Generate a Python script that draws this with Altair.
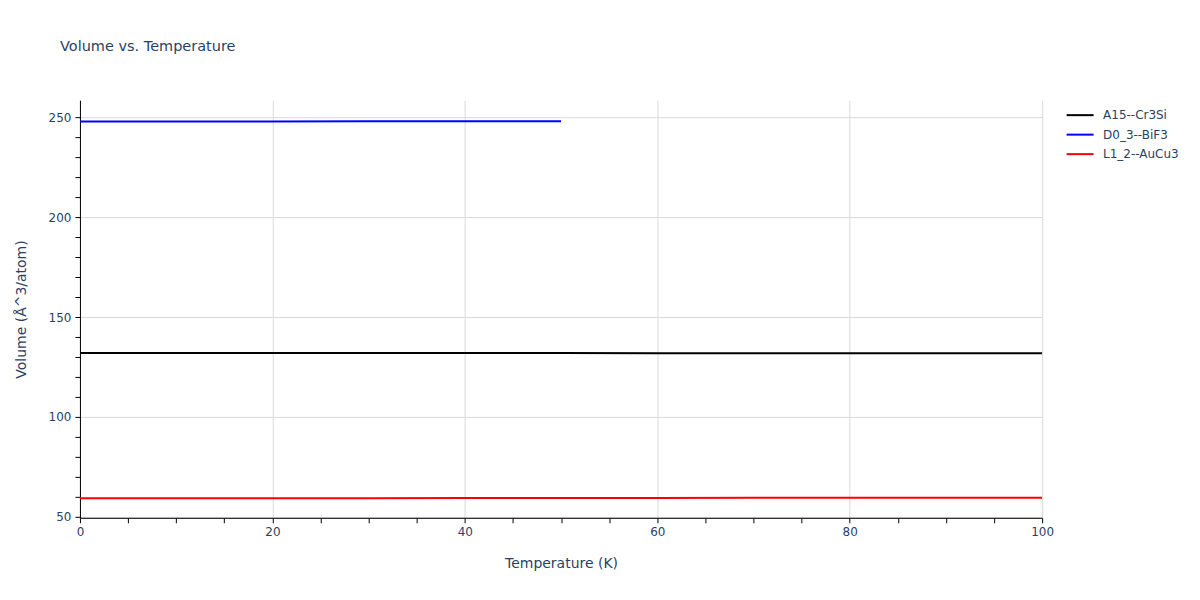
import altair as alt
import pandas as pd

temps_a15 = [0, 10, 20, 30, 40, 50, 60, 70, 80, 90, 100]
vol_a15 = [132.1, 132.1, 132.1, 132.05, 132.0, 132.0, 131.95, 131.95, 131.9, 131.9, 131.9]
temps_d03 = [0, 10, 20, 30, 40, 50]
vol_d03 = [248.0, 248.05, 248.05, 248.1, 248.15, 248.2]
temps_l12 = [0, 10, 20, 30, 40, 50, 60, 70, 80, 90, 100]
vol_l12 = [59.3, 59.3, 59.35, 59.35, 59.4, 59.4, 59.45, 59.5, 59.5, 59.55, 59.6]

series = ["A15--Cr3Si", "D0_3--BiF3", "L1_2--AuCu3"]
colors = ["#000000", "#0000ff", "#ff0000"]

rows = []
for name, ts, vs in zip(series, [temps_a15, temps_d03, temps_l12], [vol_a15, vol_d03, vol_l12]):
    for t, v in zip(ts, vs):
        rows.append({"T": t, "V": v, "series": name})
df = pd.DataFrame(rows)

FONT = "DejaVu Sans"
TXT = "#2a3f5f"

x_ticks = list(range(0, 101, 5))
y_ticks = list(range(50, 251, 10))

chart = alt.Chart(df).mark_line(strokeWidth=2, clip=True).encode(
    x=alt.X("T:Q", scale=alt.Scale(domain=[0, 100], nice=False, zero=False),
            axis=alt.Axis(title="Temperature (K)", values=x_ticks, labelFlush=False,
                          labelExpr="datum.value % 20 === 0 ? datum.label : ''",
                          gridOpacity={"expr": "datum.value % 20 === 0 ? 1 : 0"},
                          titlePadding=19)),
    y=alt.Y("V:Q", scale=alt.Scale(domain=[49.5, 258.7], nice=False, zero=False),
            axis=alt.Axis(title="Volume (Å^3/atom)", values=y_ticks, labelFlush=False,
                          labelExpr="datum.value % 50 === 0 ? datum.label : ''",
                          gridOpacity={"expr": "datum.value % 50 === 0 ? 1 : 0"},
                          titlePadding=20)),
    color=alt.Color("series:N", scale=alt.Scale(domain=series, range=colors),
                    legend=alt.Legend(title=None, orient="none", legendX=990, legendY=4,
                                      symbolType="M-1.35,0H1.35", symbolStrokeWidth=2,
                                      symbolSize=400, labelFontSize=12, labelOffset=12,
                                      labelFont=FONT, labelColor=TXT, rowPadding=2.5,
                                      symbolOffset=0)),
).properties(
    width=963, height=418,
    title=alt.TitleParams("Volume vs. Temperature", anchor="start", dx=46, dy=-42,
                          fontSize=14.5, font=FONT, color=TXT, fontWeight="normal"),
    padding={"left": 72, "top": 92, "right": 150, "bottom": 70},
    autosize="none",
).configure_view(stroke=None).configure_axis(
    domainColor="#000000", tickColor="#000000", tickSize=5,
    gridColor="#d9d9d9", labelFont=FONT, titleFont=FONT, labelColor=TXT, titleColor=TXT,
    labelFontSize=12, titleFontSize=14, titleFontWeight="normal", labelPadding=4,
)

chart.save("out.html", embed_options={"renderer": "svg", "actions": False})
